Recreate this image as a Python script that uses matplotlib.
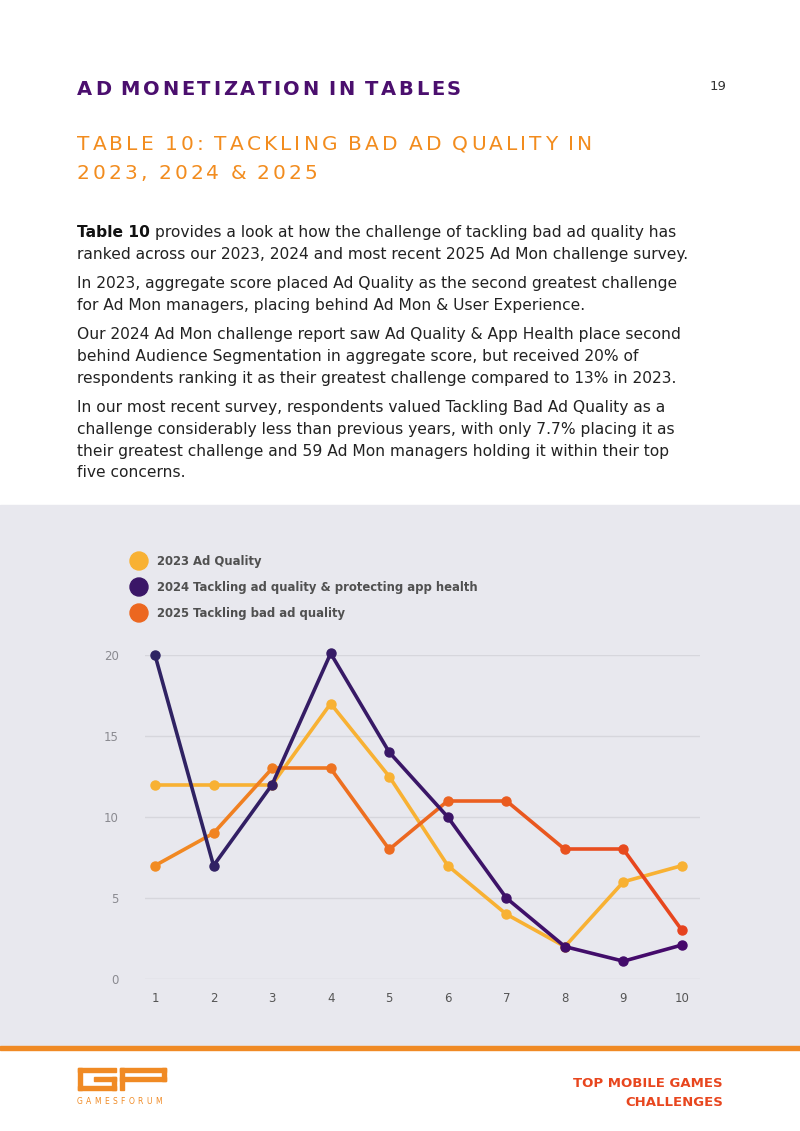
import matplotlib
matplotlib.use("Agg")
import matplotlib.pyplot as plt
import numpy as np
from matplotlib.colors import to_rgb
from matplotlib.patches import Rectangle, Ellipse

W, H = 800, 1131

# chart data
ranks = [1, 2, 3, 4, 5, 6, 7, 8, 9, 10]
q2023 = [12, 12, 12, 17, 12.5, 7, 4, 2, 6, 7]
q2024 = [20, 7, 12, 20.1, 14, 10, 5, 2, 1.1, 2.1]
q2025 = [7, 9, 13, 13, 8, 11, 11, 8, 8, 3]
series_names = ["2023 Ad Quality",
                "2024 Tackling ad quality & protecting app health",
                "2025 Tackling bad ad quality"]
y_ticks = [0, 5, 10, 15, 20]

# (left colour, right colour) for each series
c2023 = ("#F8B133", "#F8B133")
c2024 = ("#2E2463", "#46086B")
c2025 = ("#F28C22", "#E6421E")
purple = "#4B0F6E"
orange = "#F28C1E"

body = [
    ["provides a look at how the challenge of tackling bad ad quality has",
     "ranked across our 2023, 2024 and most recent 2025 Ad Mon challenge survey."],
    ["In 2023, aggregate score placed Ad Quality as the second greatest challenge",
     "for Ad Mon managers, placing behind Ad Mon & User Experience."],
    ["Our 2024 Ad Mon challenge report saw Ad Quality & App Health place second",
     "behind Audience Segmentation in aggregate score, but received 20% of",
     "respondents ranking it as their greatest challenge compared to 13% in 2023."],
    ["In our most recent survey, respondents valued Tackling Bad Ad Quality as a",
     "challenge considerably less than previous years, with only 7.7% placing it as",
     "their greatest challenge and 59 Ad Mon managers holding it within their top",
     "five concerns."],
]
para_tops = [231, 282, 333, 406]


def fx(x):
    return x / W


def fy(y):
    return 1 - y / H


def mix(c, t):
    a, b = np.array(to_rgb(c[0])), np.array(to_rgb(c[1]))
    return tuple(a + (b - a) * t)


fig = plt.figure(figsize=(8, 11.31), dpi=100)
fig.patch.set_facecolor("white")
r = fig.canvas.get_renderer()


def spaced(x, y, s, gap, space_w, **kw):
    # draw text with letter spacing, one char at a time
    for ch in s:
        if ch == " ":
            x += space_w
            continue
        t = fig.text(fx(x), fy(y), ch, va="baseline", ha="left", **kw)
        x += t.get_window_extent(r).width + gap


# headings
spaced(77, 95, "AD MONETIZATION IN TABLES", 2.7, 7, color=purple,
       fontsize=14, fontweight="bold", family="DejaVu Sans")
spaced(77, 150, "TABLE 10: TACKLING BAD AD QUALITY IN", 3.1, 8, color=orange,
       fontsize=14.5, family="DejaVu Sans")
spaced(77, 179, "2023, 2024 & 2025", 3.1, 8, color=orange,
       fontsize=14.5, family="DejaVu Sans")
fig.text(fx(710), fy(90), "19", fontsize=9.5, color="#333333", va="baseline")

# body text
bsize = 11.2
for lines, top in zip(body, para_tops):
    for i, line in enumerate(lines):
        y = top + 6 + i * 21.8
        x = 77
        if top == para_tops[0] and i == 0:
            t = fig.text(fx(x), fy(y), "Table 10", fontsize=bsize, fontweight="bold",
                         color="#111111", va="baseline")
            x += t.get_window_extent(r).width + 5
        fig.text(fx(x), fy(y), line, fontsize=bsize, color="#222222", va="baseline")

# grey panel and orange rule
fig.patches.append(Rectangle((0, fy(1045)), 1, (1045 - 505) / H, transform=fig.transFigure,
                             color="#E8E8EE", zorder=-5))
fig.patches.append(Rectangle((0, fy(1050)), 1, 4 / H, transform=fig.transFigure,
                             color="#F08A24", zorder=-5))

# legend
for i, (name, c) in enumerate(zip(series_names, [c2023, c2024, c2025])):
    y = 561 + i * 26
    fig.patches.append(Ellipse((fx(139), fy(y)), 18 / W, 18 / H, transform=fig.transFigure,
                               color=mix(c, 0.5), zorder=3))
    fig.text(fx(157), fy(y), name, fontsize=8.4, fontweight="bold", color="#505050",
             va="center")

# chart axes: y 0 at px 979, 20 at px 655; x 1 at px 155, 10 at px 682
ax = fig.add_axes([fx(145), fy(979), (700 - 145) / W, (979 - 655) / H])
ax.set_facecolor("none")
ppu = (682 - 155) / 9
ax.set_xlim(1 - 10 / ppu, 10 + 18 / ppu)
ax.set_ylim(0, 20)
for s in ax.spines.values():
    s.set_visible(False)
ax.set_yticks(y_ticks)
ax.set_xticks(ranks)
ax.grid(axis="y", color="#D6D6DC", linewidth=1)
ax.tick_params(length=0)
ax.tick_params(axis="y", labelsize=8.5, labelcolor="#8A8A90", pad=19)
ax.tick_params(axis="x", labelsize=8.5, labelcolor="#555555", pad=9)
ax.set_axisbelow(True)

# each series drawn segment by segment so the colour can drift left to right
for vals, c, z in [(q2023, c2023, 3), (q2025, c2025, 4), (q2024, c2024, 5)]:
    n = len(ranks)
    for k in range(n - 1):
        ax.plot(ranks[k:k + 2], vals[k:k + 2], color=mix(c, (k + 0.5) / (n - 1)),
                lw=2.6, solid_capstyle="round", clip_on=False, zorder=z)
    for k in range(n):
        ax.plot(ranks[k], vals[k], "o", color=mix(c, k / (n - 1)), ms=6.5,
                clip_on=False, zorder=z)

# footer
fig.text(fx(723), fy(1087), "TOP MOBILE GAMES", fontsize=9.5, fontweight="bold",
         color="#E8461E", ha="right", va="baseline")
fig.text(fx(723), fy(1106), "CHALLENGES", fontsize=9.5, fontweight="bold",
         color="#E8461E", ha="right", va="baseline")

# GF logo, rough shapes
logo = [(78, 1068, 38, 4), (78, 1068, 4, 22), (78, 1086, 38, 4), (94, 1077, 22, 4),
        (112, 1077, 4, 13), (120, 1068, 46, 4), (120, 1068, 4, 22), (120, 1077, 46, 4),
        (162, 1068, 4, 13)]
for (x, y, w, h) in logo:
    fig.patches.append(Rectangle((fx(x), fy(y + h)), w / W, h / H, transform=fig.transFigure,
                                 color="#F08A24", zorder=3))
spaced(77, 1104, "GAMESFORUM", 3.3, 4, color="#F08A24", fontsize=5.5,
       family="DejaVu Sans")

fig.savefig("out.png", dpi=100, facecolor="white")
